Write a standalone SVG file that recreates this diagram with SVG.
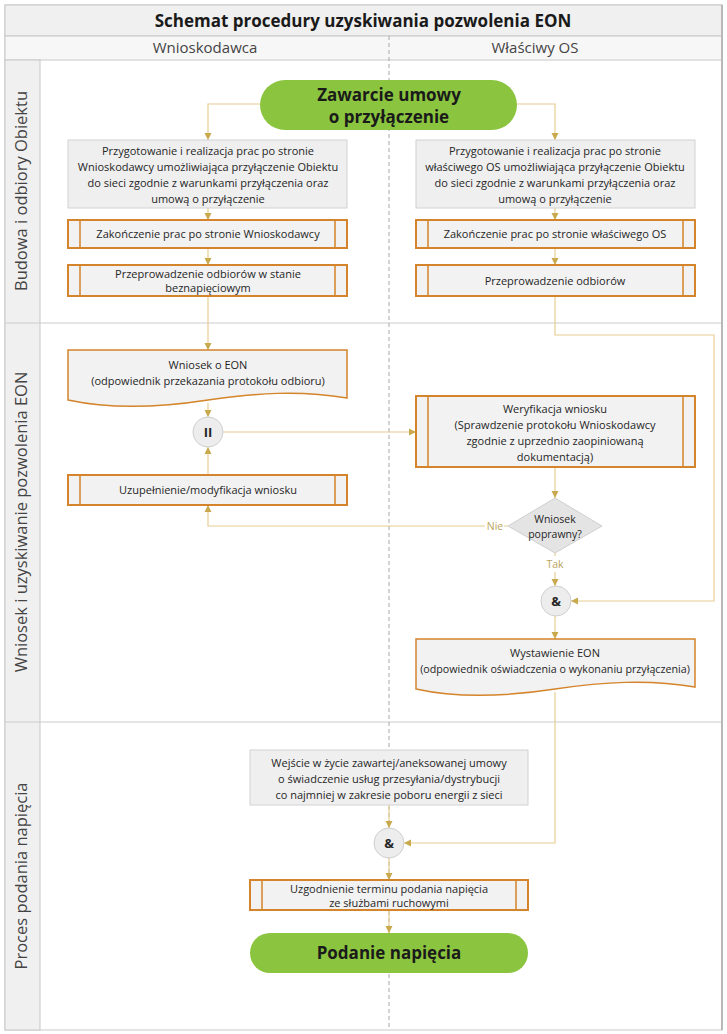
<svg xmlns="http://www.w3.org/2000/svg" width="727" height="1034" viewBox="0 0 727 1034">
<style>
text{font-family:"Open Sans","Noto Sans","Liberation Sans",sans-serif;fill:#262626;text-anchor:middle}
.t{font-size:11px}
.big{font-size:17px;font-weight:700;fill:#1a1a1a}
.lane{font-size:15px;fill:#444}
.phase{font-size:16.5px;fill:#444}
.grey{fill:#efefef;stroke:#d2d2d2;stroke-width:1}
.sub{fill:#f2f2f2;stroke:#d4842a;stroke-width:2}
.subin{stroke:#d4842a;stroke-width:1.5;fill:none}
.doc{fill:#f2f2f2;stroke:#d4842a;stroke-width:1.5}
.green{fill:#8bc53f}
.gw{fill:#ededed;stroke:#cfcfcf;stroke-width:1}
.c{fill:none;stroke:#e8cd92;stroke-width:1.2}
.lbl{font-size:10.5px;fill:#b9a45c}
</style>
<defs>
<marker id="ah" markerUnits="userSpaceOnUse" markerWidth="8" markerHeight="8" refX="7" refY="4" orient="auto">
<path d="M0,0.5 L7,4 L0,7.5 z" fill="#c9a94e"/>
</marker>
</defs>
<g id="frame">
<rect x="5" y="5" width="717" height="1025" fill="#fff" stroke="#c8c8c8" stroke-width="1"/>
<rect x="5" y="5" width="717" height="31" fill="#f0f0f0" stroke="#c8c8c8" stroke-width="1"/>
<rect x="5" y="36" width="717" height="24" fill="#f7f7f7" stroke="#c8c8c8" stroke-width="1"/>
<rect x="5" y="60" width="35" height="970" fill="#f0f0f0" stroke="#c8c8c8" stroke-width="1"/>
<line x1="5" y1="323" x2="722" y2="323" stroke="#c8ccd0" stroke-width="1.2"/>
<line x1="5" y1="722" x2="722" y2="722" stroke="#c8ccd0" stroke-width="1.2"/>
<line x1="722" y1="5" x2="722" y2="1030" stroke="#b8b8b8" stroke-width="2"/>
<line x1="389" y1="36" x2="389" y2="1030" stroke="#a8a8a8" stroke-width="1" stroke-dasharray="4,3"/>
<text x="363" y="27" style="font-size:17px;font-weight:700;fill:#1a1a1a">Schemat procedury uzyskiwania pozwolenia EON</text>
<text class="lane" x="205" y="53">Wnioskodawca</text>
<text class="lane" x="535" y="53">Właściwy OS</text>
<text class="phase" transform="translate(27,191) rotate(-90)">Budowa i odbiory Obiektu</text>
<text class="phase" transform="translate(27,522) rotate(-90)">Wniosek i uzyskiwanie pozwolenia EON</text>
<text class="phase" transform="translate(27,876) rotate(-90)">Proces podania napięcia</text>
</g>
<g id="connectors">
<path class="c" d="M262,104 H208 V140" marker-end="url(#ah)"/>
<path class="c" d="M515,104 H555 V140" marker-end="url(#ah)"/>
<path class="c" d="M208,208 V220" marker-end="url(#ah)"/>
<path class="c" d="M555,208 V220" marker-end="url(#ah)"/>
<path class="c" d="M208,248 V265" marker-end="url(#ah)"/>
<path class="c" d="M555,248 V265" marker-end="url(#ah)"/>
<path class="c" d="M208,296 V350" marker-end="url(#ah)"/>
<path class="c" d="M208,403 V417" marker-end="url(#ah)"/>
<path class="c" d="M223,432 H416" marker-end="url(#ah)"/>
<path class="c" d="M208,475 V447" marker-end="url(#ah)"/>
<path class="c" d="M555,467 V498" marker-end="url(#ah)"/>
<path class="c" d="M508,526 H504 M485,526 H208 V505" marker-end="url(#ah)"/>
<path class="c" d="M555,553 V556 M555,572 V586" marker-end="url(#ah)"/>
<path class="c" d="M555,296 V335 H714 V601 H571" marker-end="url(#ah)"/>
<path class="c" d="M555,616 V639" marker-end="url(#ah)"/>
<path class="c" d="M555,692 V843 H404" marker-end="url(#ah)"/>
<path class="c" d="M389,805 V828" marker-end="url(#ah)"/>
<path class="c" d="M389,858 V880" marker-end="url(#ah)"/>
<path class="c" d="M389,910 V933" marker-end="url(#ah)"/>
<text class="lbl" x="495" y="530">Nie</text>
<text class="lbl" x="555" y="568">Tak</text>
</g>
<g id="start">
<rect class="green" x="260" y="80" width="257" height="50" rx="25"/>
<text class="big" x="389" y="101">Zawarcie umowy</text>
<text class="big" x="389" y="123">o przyłączenie</text>
</g>
<g id="prep-w">
<rect class="grey" x="68" y="140" width="279" height="68"/>
<text class="t" x="208" y="155">Przygotowanie i realizacja prac po stronie</text>
<text class="t" x="208" y="171">Wnioskodawcy umożliwiająca przyłączenie Obiektu</text>
<text class="t" x="208" y="187">do sieci zgodnie z warunkami przyłączenia oraz</text>
<text class="t" x="208" y="203">umową o przyłączenie</text>
</g>
<g id="prep-os">
<rect class="grey" x="416" y="140" width="279" height="68"/>
<text class="t" x="555" y="155">Przygotowanie i realizacja prac po stronie</text>
<text class="t" x="555" y="171">właściwego OS umożliwiająca przyłączenie Obiektu</text>
<text class="t" x="555" y="187">do sieci zgodnie z warunkami przyłączenia oraz</text>
<text class="t" x="555" y="203">umową o przyłączenie</text>
</g>
<g id="end-w">
<rect class="sub" x="68" y="220" width="279" height="28"/>
<path class="subin" d="M80,220 V248 M335,220 V248"/>
<text class="t" x="208" y="238">Zakończenie prac po stronie Wnioskodawcy</text>
</g>
<g id="end-os">
<rect class="sub" x="416" y="220" width="279" height="28"/>
<path class="subin" d="M428,220 V248 M683,220 V248"/>
<text class="t" x="555" y="238">Zakończenie prac po stronie właściwego OS</text>
</g>
<g id="odb-w">
<rect class="sub" x="68" y="265" width="279" height="31"/>
<path class="subin" d="M80,265 V296 M335,265 V296"/>
<text class="t" x="208" y="278">Przeprowadzenie odbiorów w stanie</text>
<text class="t" x="208" y="292">beznapięciowym</text>
</g>
<g id="odb-os">
<rect class="sub" x="416" y="265" width="279" height="31"/>
<path class="subin" d="M428,265 V296 M683,265 V296"/>
<text class="t" x="555" y="285">Przeprowadzenie odbiorów</text>
</g>
<g id="wniosek">
<path class="doc" d="M68,350 H347 V398 C300,390 255,393 208,400 C150,409 105,408 68,400 Z"/>
<text class="t" x="208" y="369">Wniosek o EON</text>
<text class="t" x="208" y="385">(odpowiednik przekazania protokołu odbioru)</text>
</g>
<g id="gw-or">
<circle class="gw" cx="208" cy="432" r="15"/>
<text x="208" y="437" style="font-size:13px;font-weight:700">II</text>
</g>
<g id="weryfikacja">
<rect class="sub" x="416" y="396" width="279" height="71"/>
<path class="subin" d="M428,396 V467 M683,396 V467"/>
<text class="t" x="555" y="413">Weryfikacja wniosku</text>
<text class="t" x="555" y="429">(Sprawdzenie protokołu Wnioskodawcy</text>
<text class="t" x="555" y="445">zgodnie z uprzednio zaopiniowaną</text>
<text class="t" x="555" y="461">dokumentacją)</text>
</g>
<g id="uzupelnienie">
<rect class="sub" x="68" y="475" width="279" height="30"/>
<path class="subin" d="M80,475 V505 M335,475 V505"/>
<text class="t" x="208" y="494">Uzupełnienie/modyfikacja wniosku</text>
</g>
<g id="decision">
<path class="gw" d="M555,498 L602,526 L555,553 L508,526 Z" style="fill:#e4e4e4"/>
<text class="t" x="555" y="523" style="font-size:10.5px">Wniosek</text>
<text class="t" x="555" y="538" style="font-size:10.5px">poprawny?</text>
</g>
<g id="gw-and1">
<circle class="gw" cx="556" cy="601" r="15"/>
<text x="556" y="606" style="font-size:13px;font-weight:700">&amp;</text>
</g>
<g id="wystawienie">
<path class="doc" d="M416,639 H695 V687 C648,679 603,682 555,689 C497,698 452,697 416,689 Z"/>
<text class="t" x="555" y="657">Wystawienie EON</text>
<text class="t" x="555" y="673" style="font-size:10.7px">(odpowiednik oświadczenia o wykonaniu przyłączenia)</text>
</g>
<g id="umowa">
<rect class="grey" x="250" y="750" width="278" height="55"/>
<text class="t" x="389" y="767">Wejście w życie zawartej/aneksowanej umowy</text>
<text class="t" x="389" y="783">o świadczenie usług przesyłania/dystrybucji</text>
<text class="t" x="389" y="799">co najmniej w zakresie poboru energii z sieci</text>
</g>
<g id="gw-and2">
<circle class="gw" cx="389" cy="843" r="15"/>
<text x="389" y="848" style="font-size:13px;font-weight:700">&amp;</text>
</g>
<g id="uzgodnienie">
<rect class="sub" x="250" y="880" width="278" height="30"/>
<path class="subin" d="M262,880 V910 M516,880 V910"/>
<text class="t" x="389" y="893">Uzgodnienie terminu podania napięcia</text>
<text class="t" x="389" y="907">ze służbami ruchowymi</text>
</g>
<g id="end">
<rect class="green" x="250" y="933" width="278" height="40" rx="20"/>
<text class="big" x="389" y="959">Podanie napięcia</text>
</g>
</svg>
